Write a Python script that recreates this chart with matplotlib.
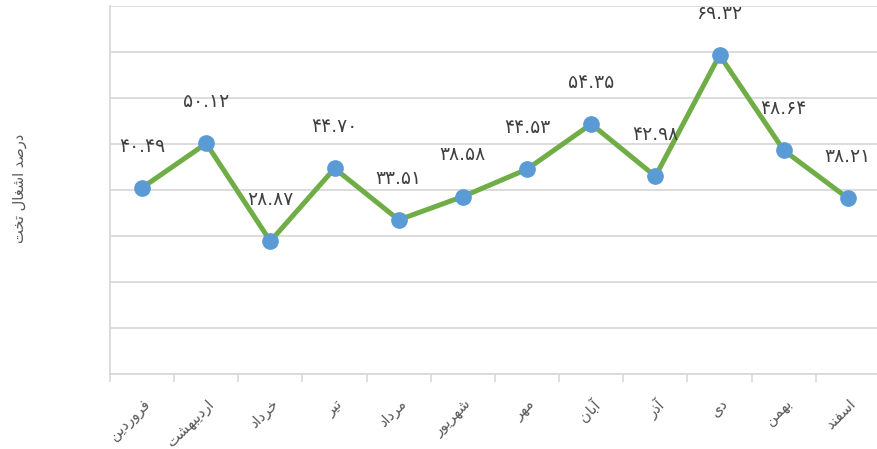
import matplotlib
matplotlib.use('Agg')
import matplotlib.pyplot as plt

months = ['فروردین', 'اردیبهشت', 'خرداد', 'تیر', 'مرداد', 'شهریور',
          'مهر', 'آبان', 'آذر', 'دی', 'بهمن', 'اسفند']
occupancy = [40.49, 50.12, 28.87, 44.70, 33.51, 38.58,
             44.53, 54.35, 42.98, 69.32, 48.64, 38.21]
ylabel_text = 'درصد اشغال تخت'

# isolated, final, initial, medial presentation forms
forms = {
    'ا': ('\uFE8D', '\uFE8E', None, None),
    'آ': ('\uFE81', '\uFE82', None, None),
    'ب': ('\uFE8F', '\uFE90', '\uFE91', '\uFE92'),
    'ت': ('\uFE95', '\uFE96', '\uFE97', '\uFE98'),
    'خ': ('\uFEA5', '\uFEA6', '\uFEA7', '\uFEA8'),
    'د': ('\uFEA9', '\uFEAA', None, None),
    'ذ': ('\uFEAB', '\uFEAC', None, None),
    'ر': ('\uFEAD', '\uFEAE', None, None),
    'س': ('\uFEB1', '\uFEB2', '\uFEB3', '\uFEB4'),
    'ش': ('\uFEB5', '\uFEB6', '\uFEB7', '\uFEB8'),
    'ص': ('\uFEB9', '\uFEBA', '\uFEBB', '\uFEBC'),
    'غ': ('\uFECD', '\uFECE', '\uFECF', '\uFED0'),
    'ف': ('\uFED1', '\uFED2', '\uFED3', '\uFED4'),
    'ل': ('\uFEDD', '\uFEDE', '\uFEDF', '\uFEE0'),
    'م': ('\uFEE1', '\uFEE2', '\uFEE3', '\uFEE4'),
    'ن': ('\uFEE5', '\uFEE6', '\uFEE7', '\uFEE8'),
    'ه': ('\uFEE9', '\uFEEA', '\uFEEB', '\uFEEC'),
    'و': ('\uFEED', '\uFEEE', None, None),
    'ی': ('\uFEEF', '\uFEF0', '\uFEF3', '\uFEF4'),
}

def dual(c):
    return c in forms and forms[c][2] is not None

def shape(word):
    out = []
    for i, c in enumerate(word):
        if c not in forms:
            out.append(c)
            continue
        prev = word[i-1] if i > 0 else ''
        nxt = word[i+1] if i < len(word)-1 else ''
        p = dual(prev)
        n = dual(c) and nxt in forms
        if p and n:
            out.append(forms[c][3])
        elif p:
            out.append(forms[c][1])
        elif n:
            out.append(forms[c][2])
        else:
            out.append(forms[c][0])
    return ''.join(reversed(out))

def fa_digits(v):
    s = '%.2f' % v
    return ''.join('۰۱۲۳۴۵۶۷۸۹'[int(ch)] if ch.isdigit() else ch for ch in s)

plt.rcParams['font.family'] = ['DejaVu Sans']

fig = plt.figure(figsize=(8.77, 4.49), dpi=100)
ax = fig.add_axes([0.1254, 0.167, 0.878, 0.8196])

x = list(range(len(months)))
ax.plot(x, occupancy, color='#70ad47', linewidth=3.6, marker='o',
        markersize=11, markerfacecolor='#5b9bd5', markeredgecolor='#5b9bd5', zorder=3)

for i, v in enumerate(occupancy):
    ax.annotate(fa_digits(v), (i, v), xytext=(0, 30), textcoords='offset points',
                ha='center', va='center', fontsize=13.5, color='#404040', zorder=4)

ax.set_ylim(0, 80)
ax.set_xlim(-0.5, 11.5)
ax.set_yticks(range(0, 81, 10))
ax.set_yticklabels([])
ax.tick_params(axis='y', length=0)
ax.grid(axis='y', color='#d9d9d9', linewidth=1.3)
ax.set_axisbelow(True)

ax.set_xticks(x)
ax.set_xticklabels([shape(m) for m in months], rotation=45, ha='right',
                   rotation_mode='anchor', fontsize=10.5, color='#595959')
ax.tick_params(axis='x', which='major', length=0, pad=16)
ax.set_xticks([i - 0.5 for i in range(13)], minor=True)
ax.tick_params(axis='x', which='minor', length=6, color='#d9d9d9', width=1.2)

for side in ['top', 'right']:
    ax.spines[side].set_visible(False)
ax.spines['left'].set_color('#d9d9d9')
ax.spines['bottom'].set_color('#d9d9d9')
ax.spines['left'].set_linewidth(1.3)
ax.spines['bottom'].set_linewidth(1.3)

fig.text(0.022, 0.58, shape(ylabel_text), rotation=90, ha='center', va='center',
         fontsize=10.5, color='#595959')

fig.savefig('out.png', dpi=100)
